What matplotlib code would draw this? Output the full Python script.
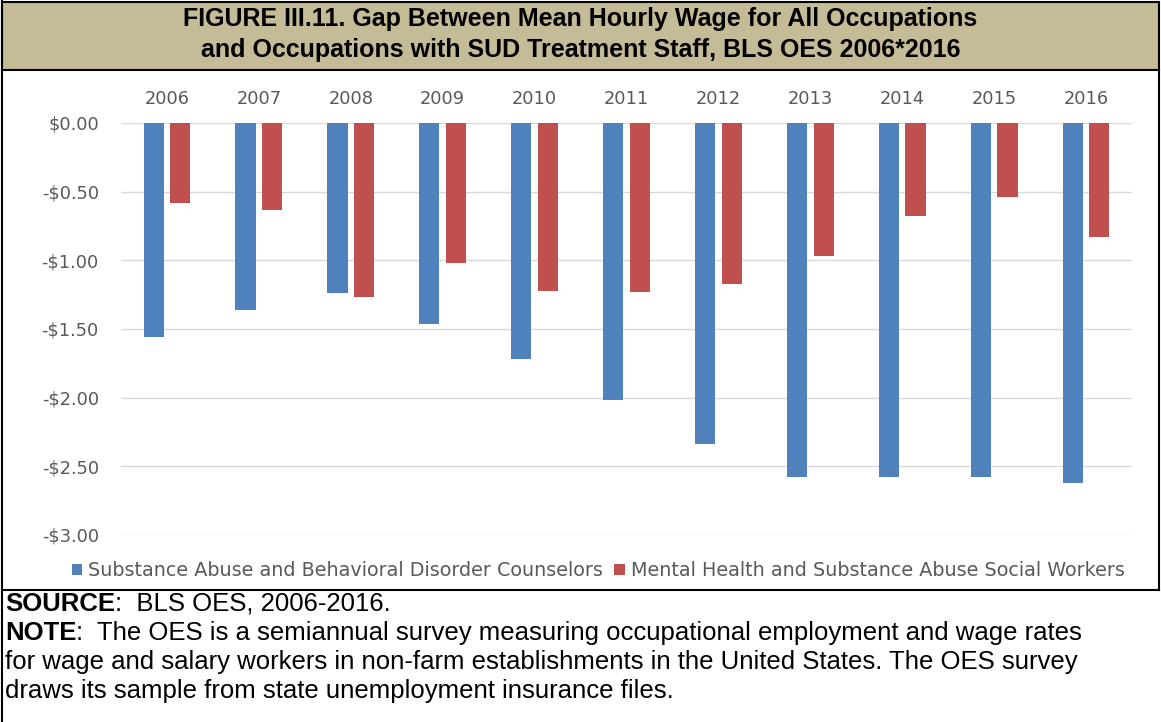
import numpy as np
import matplotlib
matplotlib.use("Agg")
import matplotlib.pyplot as plt
from matplotlib.lines import Line2D
from matplotlib.patches import Rectangle

W, H = 1161, 722  # px

years = ["2006", "2007", "2008", "2009", "2010", "2011",
         "2012", "2013", "2014", "2015", "2016"]
counselors = [-1.56, -1.36, -1.24, -1.46, -1.72, -2.02,
              -2.34, -2.58, -2.58, -2.58, -2.62]
social_workers = [-0.58, -0.63, -1.27, -1.02, -1.22, -1.23,
                  -1.17, -0.97, -0.68, -0.54, -0.83]
series_names = ["Substance Abuse and Behavioral Disorder Counselors",
                "Mental Health and Substance Abuse Social Workers"]
y_ticks = [0.0, -0.5, -1.0, -1.5, -2.0, -2.5, -3.0]
y_labels = ["$0.00", "-$0.50", "-$1.00", "-$1.50", "-$2.00", "-$2.50", "-$3.00"]

title_lines = ["FIGURE III.11. Gap Between Mean Hourly Wage for All Occupations",
               "and Occupations with SUD Treatment Staff, BLS OES 2006*2016"]
source_txt = ("SOURCE", ":  BLS OES, 2006-2016.")
note_lines = [("NOTE", ":  The OES is a semiannual survey measuring occupational employment and wage rates"),
              ("", "for wage and salary workers in non-farm establishments in the United States. The OES survey"),
              ("", "draws its sample from state unemployment insurance files.")]

BLUE = "#4F81BD"
RED = "#C0504D"
GRAY = "#595959"
TAN = "#C4BC96"

text_font = ["Liberation Sans", "DejaVu Sans"]
chart_font = ["DejaVu Sans"]


def fx(px):
    return px / W


def fy(py):
    return 1 - py / H


fig = plt.figure(figsize=(W / 100, H / 100), dpi=100)
fig.patch.set_facecolor("white")

# title box
fig.patches.append(Rectangle((fx(2), fy(70)), fx(1157), 68 / H, transform=fig.transFigure,
                             facecolor=TAN, edgecolor="black", lw=1.5, zorder=0))
fig.text(0.5, fy(19), title_lines[0], ha="center", va="center", fontsize=18,
         fontweight="bold", family=text_font)
fig.text(0.5, fy(50), title_lines[1], ha="center", va="center", fontsize=18,
         fontweight="bold", family=text_font)

# frame lines
for xs, ys in [((2, 2), (0, H)), ((1159, 1159), (70, 590)), ((2, 1159), (590, 590))]:
    fig.add_artist(Line2D([fx(x) for x in xs], [fy(y) for y in ys],
                          transform=fig.transFigure, color="black", lw=1.5))

# chart
ax = fig.add_axes([fx(121), fy(535), fx(1132 - 121), (535 - 123) / H])
x = np.arange(len(years))
w = 0.22
ax.bar(x - 0.145, counselors, w, color=BLUE, label=series_names[0], zorder=2)
ax.bar(x + 0.145, social_workers, w, color=RED, label=series_names[1], zorder=2)
ax.set_xlim(-0.5, len(years) - 0.5)
ax.set_ylim(-3.0, 0.0)
ax.set_yticks(y_ticks)
ax.set_yticklabels(y_labels)
ax.set_xticks(x)
ax.set_xticklabels(years)
ax.xaxis.tick_top()
ax.tick_params(axis="both", length=0, colors=GRAY, labelsize=12.8)
ax.tick_params(axis="x", pad=11)
ax.tick_params(axis="y", pad=16)
for lab in ax.get_xticklabels() + ax.get_yticklabels():
    lab.set_family(chart_font)
ax.grid(axis="y", color="#D9D9D9", lw=1, zorder=0)
for s in ax.spines.values():
    s.set_visible(False)

leg = fig.legend(loc="center", bbox_to_anchor=(fx(598), fy(571)), ncol=2, frameon=False,
                 handlelength=0.55, handleheight=0.55, handletextpad=0.3, columnspacing=0.6,
                 prop={"family": chart_font, "size": 13.8})
for t in leg.get_texts():
    t.set_color(GRAY)

# footnote
fig.canvas.draw()
r = fig.canvas.get_renderer()
rows = [source_txt] + note_lines
for i, (bold, rest) in enumerate(rows):
    yy = fy(604 + i * 29)
    xx = fx(5)
    if bold:
        tb = fig.text(xx, yy, bold, ha="left", va="center", fontsize=18.5,
                      fontweight="bold", family=text_font)
        bb = tb.get_window_extent(renderer=r)
        xx = bb.x1 / W
    fig.text(xx, yy, rest, ha="left", va="center", fontsize=18.5, family=text_font)

fig.savefig("out.png", dpi=100)
